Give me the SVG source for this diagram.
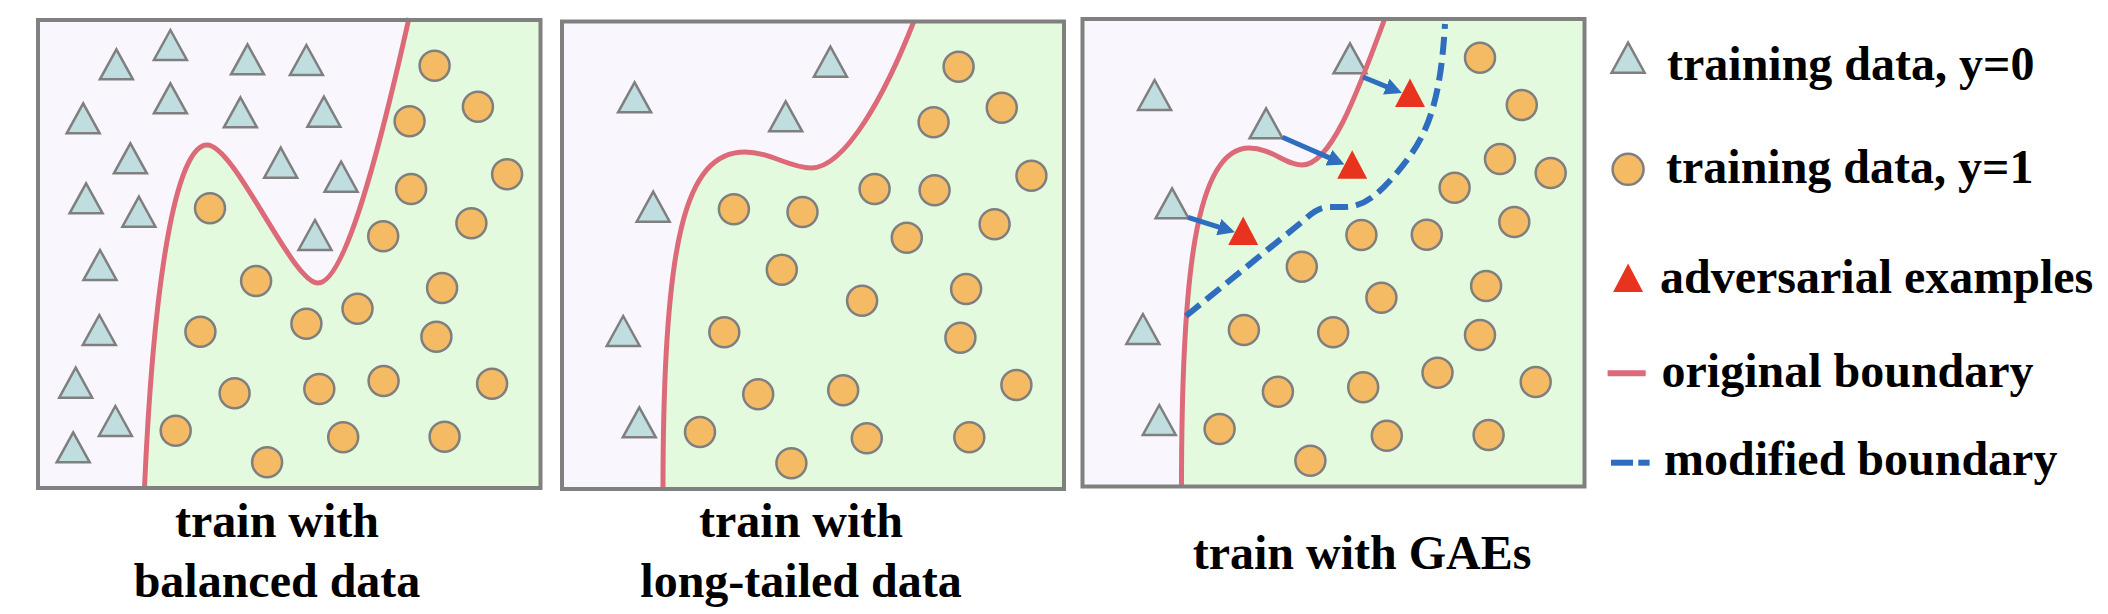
<svg xmlns="http://www.w3.org/2000/svg" width="2108" height="614" viewBox="0 0 2108 614">
<style>
.bg{fill:#F9F7FD}
.grn{fill:#E4FADF}
.frame{fill:none;stroke:#808080;stroke-width:4}
.t0{fill:#C0DEE0;stroke:#7F7F7F;stroke-width:2.5;stroke-linejoin:miter}
.c1{fill:#F4BB64;stroke:#7F7F7F;stroke-width:2.5}
.adv{fill:#E8331F}
.orig{fill:none;stroke:#DC6A78;stroke-width:5}
.mod{fill:none;stroke:#2F6DBF;stroke-width:6;stroke-dasharray:18 8}
.arr{fill:none;stroke:#2F6DBF;stroke-width:5}
.lbl{font-weight:bold;font-size:48px;fill:#000}
</style>
<defs>
<path id="tri" d="M0,0 L16.5,30 L-16.5,30 Z"/>
<path id="rtri" d="M0,0 L15,28.5 L-15,28.5 Z"/>
<marker id="ah" viewBox="0 0 10 10" refX="7" refY="5" markerWidth="3.4" markerHeight="3.4" orient="auto" markerUnits="strokeWidth">
<path d="M0,0 L10,5 L0,10 Z" fill="#2F6DBF"/>
</marker>
</defs>
<rect width="2108" height="614" fill="#fff"/>

<g id="panel-balanced">
<rect class="bg" x="38" y="20" width="502.5" height="468"/>
<path class="grn" d="M144.5,488 C155,250 180,145 207,145 C235,145 292,283 318,283 C343,283 375,170 409,20 L540.5,20 L540.5,488 Z"/>
<g class="t0">
<use href="#tri" x="116.4" y="49.3"/><use href="#tri" x="170.4" y="30"/><use href="#tri" x="247.5" y="44.3"/><use href="#tri" x="306.4" y="45"/>
<use href="#tri" x="83.2" y="103.3"/><use href="#tri" x="170.4" y="83.3"/><use href="#tri" x="240.4" y="97.3"/><use href="#tri" x="323.9" y="96.7"/>
<use href="#tri" x="130.4" y="143.3"/><use href="#tri" x="280.7" y="147.7"/><use href="#tri" x="341.1" y="161.7"/><use href="#tri" x="86.1" y="183.3"/>
<use href="#tri" x="138.9" y="196.7"/><use href="#tri" x="315" y="220"/><use href="#tri" x="100" y="250"/><use href="#tri" x="99.3" y="315"/>
<use href="#tri" x="75.7" y="367.7"/><use href="#tri" x="115.4" y="406"/><use href="#tri" x="73.2" y="432.3"/>
</g>
<g class="c1">
<circle cx="434.6" cy="65.7" r="15"/><circle cx="477.9" cy="106.7" r="15"/><circle cx="409.6" cy="121.3" r="15"/><circle cx="507.1" cy="174.3" r="15"/>
<circle cx="411.1" cy="189" r="15"/><circle cx="210" cy="208.3" r="15"/><circle cx="471.4" cy="223.3" r="15"/><circle cx="383.2" cy="236.3" r="15"/>
<circle cx="256.1" cy="281" r="15"/><circle cx="442.1" cy="288" r="15"/><circle cx="357.5" cy="308.7" r="15"/><circle cx="306.4" cy="323.7" r="15"/>
<circle cx="200.4" cy="331.7" r="15"/><circle cx="436.4" cy="336.7" r="15"/><circle cx="234.6" cy="393.3" r="15"/><circle cx="319.3" cy="389" r="15"/>
<circle cx="383.6" cy="381" r="15"/><circle cx="492.1" cy="383.7" r="15"/><circle cx="175.7" cy="430.7" r="15"/><circle cx="343.2" cy="437.3" r="15"/>
<circle cx="444.6" cy="436.7" r="15"/><circle cx="267.1" cy="462.3" r="15"/>
</g>
<path class="orig" d="M144.5,488 C155,250 180,145 207,145 C235,145 292,283 318,283 C343,283 375,170 409,18"/>
<rect class="frame" x="38" y="20" width="502.5" height="468"/>
<text class="lbl" font-family="'Liberation Serif', 'Times New Roman', 'DejaVu Serif', serif" x="277" y="537" text-anchor="middle">train with</text>
<text class="lbl" font-family="'Liberation Serif', 'Times New Roman', 'DejaVu Serif', serif" x="277" y="597" text-anchor="middle">balanced data</text>
</g>

<g id="panel-longtailed">
<rect class="bg" x="562" y="21.5" width="502" height="467.5"/>
<path class="grn" d="M663,489 C663,240 685,152 745,152 C770,152 790,168 811,168 C845,168 885,95 914,21.5 L1064,21.5 L1064,489 Z"/>
<g class="t0">
<use href="#tri" x="634.6" y="82.3"/><use href="#tri" x="830.4" y="46.7"/><use href="#tri" x="785.7" y="101.3"/>
<use href="#tri" x="653.2" y="191.7"/><use href="#tri" x="623.2" y="316"/><use href="#tri" x="639.3" y="407.3"/>
</g>
<g class="c1">
<circle cx="958.6" cy="66.7" r="15"/><circle cx="1001.8" cy="107.7" r="15"/><circle cx="933.6" cy="122.3" r="15"/><circle cx="1031.4" cy="175.7" r="15"/>
<circle cx="874.6" cy="189" r="15"/><circle cx="934.6" cy="190.3" r="15"/><circle cx="733.9" cy="209.3" r="15"/><circle cx="802.5" cy="212" r="15"/>
<circle cx="994.6" cy="224.3" r="15"/><circle cx="906.8" cy="237.7" r="15"/><circle cx="781.8" cy="269.7" r="15"/><circle cx="862.1" cy="300.7" r="15"/>
<circle cx="966.1" cy="289" r="15"/><circle cx="724.3" cy="332.3" r="15"/><circle cx="960.4" cy="337.7" r="15"/><circle cx="758.2" cy="394.3" r="15"/>
<circle cx="843.2" cy="390.3" r="15"/><circle cx="1016.4" cy="385" r="15"/><circle cx="700" cy="432" r="15"/><circle cx="866.8" cy="438.3" r="15"/>
<circle cx="969.3" cy="437.3" r="15"/><circle cx="791.4" cy="463.3" r="15"/>
</g>
<path class="orig" d="M663,489 C663,240 685,152 745,152 C770,152 790,168 811,168 C845,168 885,95 914,21"/>
<rect class="frame" x="562" y="21.5" width="502" height="467.5"/>
<text class="lbl" font-family="'Liberation Serif', 'Times New Roman', 'DejaVu Serif', serif" x="801" y="537" text-anchor="middle">train with</text>
<text class="lbl" font-family="'Liberation Serif', 'Times New Roman', 'DejaVu Serif', serif" x="801" y="597" text-anchor="middle">long-tailed data</text>
</g>

<g id="panel-gaes">
<rect class="bg" x="1082.5" y="19" width="502" height="467.5"/>
<path class="grn" d="M1181.5,486.5 C1181.5,280 1195,148 1249,148 C1272,148 1285,165 1302,165 C1330,165 1355,100 1385,19 L1584.5,19 L1584.5,486.5 Z"/>
<g class="t0">
<use href="#tri" x="1154.6" y="80"/><use href="#tri" x="1350" y="43.3"/><use href="#tri" x="1266.1" y="108.3"/>
<use href="#tri" x="1172.1" y="188.3"/><use href="#tri" x="1142.9" y="314"/><use href="#tri" x="1159.3" y="405"/>
</g>
<g class="c1">
<circle cx="1480" cy="57.7" r="15"/><circle cx="1521.8" cy="105" r="15"/><circle cx="1500" cy="159" r="15"/><circle cx="1550.7" cy="173" r="15"/>
<circle cx="1454.6" cy="187.7" r="15"/><circle cx="1514.3" cy="222" r="15"/><circle cx="1361.4" cy="235" r="15"/><circle cx="1426.8" cy="234.7" r="15"/>
<circle cx="1301.8" cy="266.7" r="15"/><circle cx="1486.1" cy="286" r="15"/><circle cx="1381.4" cy="297.7" r="15"/><circle cx="1243.9" cy="330" r="15"/>
<circle cx="1333.2" cy="332.3" r="15"/><circle cx="1480" cy="335" r="15"/><circle cx="1437.5" cy="372.7" r="15"/><circle cx="1535.7" cy="382" r="15"/>
<circle cx="1277.9" cy="391.7" r="15"/><circle cx="1363.2" cy="387.3" r="15"/><circle cx="1219.6" cy="429" r="15"/><circle cx="1386.8" cy="435.7" r="15"/>
<circle cx="1488.6" cy="435" r="15"/><circle cx="1310.4" cy="460.7" r="15"/>
</g>
<path class="orig" d="M1181.5,486.5 C1181.5,280 1195,148 1249,148 C1272,148 1285,165 1302,165 C1330,165 1355,100 1385,18"/>
<path class="mod" d="M1186,316 L1303,221 C1312,213 1318,207 1330,207 L1345,207 C1365,207 1380,192 1395,175 C1425,140 1440,110 1445,24"/>
<g class="adv">
<use href="#rtri" x="1410" y="78.5"/><use href="#rtri" x="1352.2" y="150.3"/><use href="#rtri" x="1243.2" y="216.5"/>
</g>
<rect class="frame" x="1082.5" y="19" width="502" height="467.5"/>
<text class="lbl" font-family="'Liberation Serif', 'Times New Roman', 'DejaVu Serif', serif" x="1362" y="569" text-anchor="middle">train with GAEs</text>
</g>

<g id="connectors">
<line class="arr" x1="1363" y1="77" x2="1397.3" y2="91.1" marker-end="url(#ah)"/>
<line class="arr" x1="1282.5" y1="137.3" x2="1339.8" y2="162.4" marker-end="url(#ah)"/>
<line class="arr" x1="1188" y1="217.3" x2="1230.1" y2="230.7" marker-end="url(#ah)"/>
</g>

<g id="legend">
<g id="legend-y0"><use class="t0" href="#tri" x="1628.1" y="42.7"/><text class="lbl" font-family="'Liberation Serif', 'Times New Roman', 'DejaVu Serif', serif" x="1667" y="80">training data, y=0</text></g>
<g id="legend-y1"><circle class="c1" cx="1628.1" cy="169.3" r="15.5"/><text class="lbl" font-family="'Liberation Serif', 'Times New Roman', 'DejaVu Serif', serif" x="1666" y="182.7">training data, y=1</text></g>
<g id="legend-adv"><use class="adv" href="#rtri" x="1628.1" y="263.5"/><text class="lbl" font-family="'Liberation Serif', 'Times New Roman', 'DejaVu Serif', serif" x="1660" y="292.7">adversarial examples</text></g>
<g id="legend-orig"><line x1="1607.6" y1="373.3" x2="1645.7" y2="373.3" stroke="#DC6A78" stroke-width="6"/><text class="lbl" font-family="'Liberation Serif', 'Times New Roman', 'DejaVu Serif', serif" x="1661.5" y="386.7">original boundary</text></g>
<g id="legend-mod"><line x1="1611" y1="462.7" x2="1633" y2="462.7" stroke="#2F6DBF" stroke-width="6"/><line x1="1638.3" y1="462.7" x2="1649.6" y2="462.7" stroke="#2F6DBF" stroke-width="6"/><text class="lbl" font-family="'Liberation Serif', 'Times New Roman', 'DejaVu Serif', serif" x="1664" y="475">modified boundary</text></g>
</g>
</svg>
